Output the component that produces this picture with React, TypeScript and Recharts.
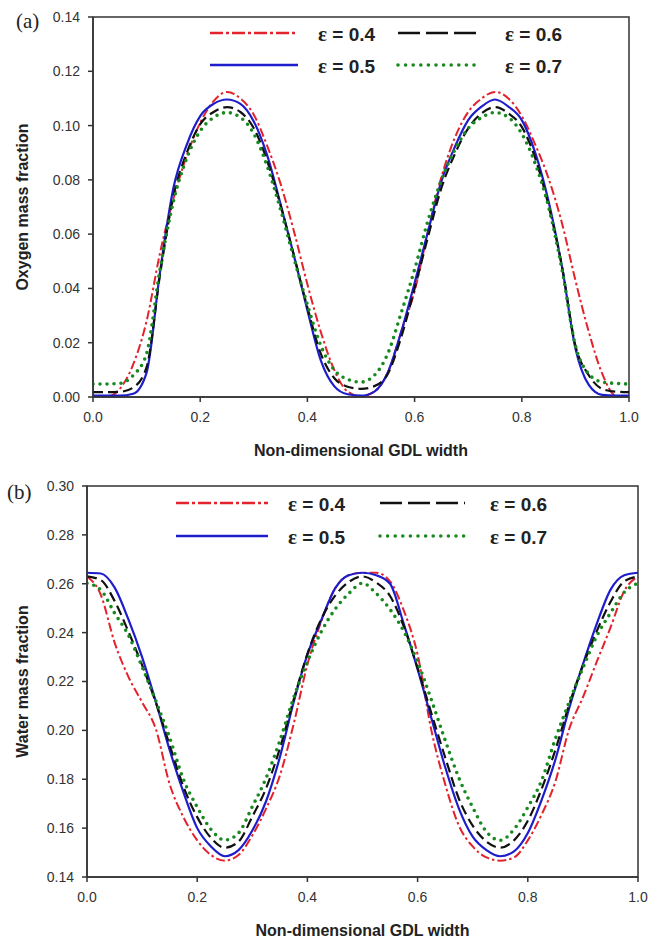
import React from "react";
import { LineChart, Line, XAxis, YAxis, ReferenceArea } from "recharts";

// shared x grid (non-dimensional GDL width)
const xs = [
  0, 0.025, 0.05, 0.075, 0.1, 0.125, 0.15, 0.175, 0.2, 0.225, 0.25, 0.275, 0.3, 0.325, 0.35, 0.375, 0.4, 0.425, 0.45,
  0.475, 0.5, 0.525, 0.55, 0.575, 0.6, 0.625, 0.65, 0.675, 0.7, 0.725, 0.75, 0.775, 0.8, 0.825, 0.85, 0.875, 0.9,
  0.925, 0.95, 0.975, 1.0,
];

const xTicks = [0, 0.2, 0.4, 0.6, 0.8, 1.0];
const oxyTicks = [0, 0.02, 0.04, 0.06, 0.08, 0.1, 0.12, 0.14];
const watTicks = [0.14, 0.16, 0.18, 0.2, 0.22, 0.24, 0.26, 0.28, 0.3];
const epsLabels = ["0.4", "0.5", "0.6", "0.7"];

// (a) oxygen mass fraction
const oxy04 = [
  0, 0, 0.003, 0.012, 0.028, 0.053, 0.073, 0.089, 0.101, 0.109, 0.1124, 0.11, 0.104, 0.0925, 0.0785, 0.061, 0.0415,
  0.024, 0.01, 0.002, 0.0002, 0.002, 0.009, 0.024, 0.039, 0.061, 0.081, 0.0955, 0.105, 0.11, 0.1124, 0.11, 0.1035,
  0.093, 0.0805, 0.064, 0.043, 0.024, 0.0086, 0.0005, 0,
];
const oxy05 = [
  0.0005, 0.0005, 0.0005, 0.0012, 0.009, 0.046, 0.077, 0.093, 0.1035, 0.108, 0.1096, 0.108, 0.1015, 0.089, 0.071,
  0.052, 0.032, 0.0135, 0.004, 0.001, 0.0005, 0.002, 0.009, 0.024, 0.042, 0.061, 0.0795, 0.0921, 0.102, 0.107, 0.1096,
  0.107, 0.102, 0.09, 0.072, 0.048, 0.018, 0.0045, 0.0008, 0.0005, 0.0005,
];
const oxy06 = [
  0.0018, 0.0018, 0.0019, 0.0035, 0.011, 0.045, 0.074, 0.09, 0.1005, 0.105, 0.1068, 0.105, 0.099, 0.087, 0.0705, 0.052,
  0.033, 0.016, 0.007, 0.0038, 0.003, 0.004, 0.0085, 0.022, 0.04, 0.059, 0.077, 0.0895, 0.099, 0.1045, 0.1068, 0.1045,
  0.0995, 0.088, 0.0705, 0.048, 0.019, 0.008, 0.003, 0.002, 0.0018,
];
const oxy07 = [
  0.0048, 0.0048, 0.005, 0.008, 0.016, 0.047, 0.072, 0.088, 0.098, 0.103, 0.1048, 0.103, 0.097, 0.085, 0.069, 0.051,
  0.034, 0.019, 0.01, 0.0065, 0.0055, 0.008, 0.016, 0.031, 0.047, 0.065, 0.08, 0.091, 0.099, 0.103, 0.1048, 0.103,
  0.097, 0.086, 0.07, 0.047, 0.019, 0.0085, 0.0055, 0.005, 0.0048,
];

// (b) water mass fraction
const wat04 = [
  0.263, 0.2555, 0.236, 0.222, 0.2115, 0.2005, 0.178, 0.1645, 0.155, 0.149, 0.1467, 0.149, 0.157, 0.168, 0.1815, 0.2025,
  0.227, 0.2445, 0.258, 0.2635, 0.2645, 0.2645, 0.261, 0.249, 0.231, 0.2, 0.178, 0.161, 0.1525, 0.148, 0.1467, 0.148,
  0.155, 0.1655, 0.179, 0.2005, 0.2135, 0.228, 0.242, 0.257, 0.263,
];
const wat05 = [
  0.2645, 0.2642, 0.2585, 0.2455, 0.23, 0.2117, 0.192, 0.1747, 0.16, 0.1525, 0.1485, 0.151, 0.159, 0.171, 0.189, 0.2115,
  0.231, 0.245, 0.258, 0.2635, 0.2645, 0.2635, 0.26, 0.2435, 0.225, 0.205, 0.185, 0.168, 0.1565, 0.151, 0.1485, 0.1505,
  0.158, 0.1715, 0.188, 0.209, 0.227, 0.2435, 0.2575, 0.2635, 0.2645,
];
const wat06 = [
  0.263, 0.2615, 0.253, 0.2405, 0.2267, 0.2113, 0.194, 0.177, 0.1645, 0.156, 0.152, 0.1545, 0.1647, 0.1763, 0.1926,
  0.2125, 0.2313, 0.2455, 0.255, 0.2607, 0.263, 0.2605, 0.255, 0.2425, 0.2255, 0.207, 0.189, 0.172, 0.161, 0.1545, 0.152,
  0.155, 0.163, 0.176, 0.192, 0.2105, 0.2265, 0.2405, 0.2525, 0.261, 0.263,
];
const wat07 = [
  0.2602, 0.2575, 0.248, 0.239, 0.226, 0.212, 0.197, 0.18, 0.1686, 0.1595, 0.1551, 0.158, 0.1688, 0.1805, 0.1958,
  0.2133, 0.228, 0.2403, 0.2495, 0.256, 0.2602, 0.256, 0.2495, 0.2405, 0.228, 0.2125, 0.196, 0.1805, 0.1685, 0.1585,
  0.155, 0.1595, 0.1685, 0.1795, 0.1965, 0.2115, 0.2255, 0.2385, 0.248, 0.2565, 0.2602,
];

const oxyRows = xs.map((x, i) => ({ x, e4: oxy04[i], e5: oxy05[i], e6: oxy06[i], e7: oxy07[i] }));
const watRows = xs.map((x, i) => ({ x, e4: wat04[i], e5: wat05[i], e6: wat06[i], e7: wat07[i] }));

const SERIES = [
  { key: "e4", label: epsLabels[0], color: "#e3222b", width: 2, dash: "9 3 2.5 3", legendDash: "13 3 3 3", cap: "butt" },
  { key: "e5", label: epsLabels[1], color: "#1d1dcc", width: 2.2, dash: undefined, legendDash: undefined, cap: "butt" },
  { key: "e6", label: epsLabels[2], color: "#111111", width: 2.2, dash: "10 5", legendDash: "22 6", cap: "butt" },
  { key: "e7", label: epsLabels[3], color: "#178a1f", width: 3.6, dash: "0 7", legendDash: "0 7.6", cap: "round" },
] as const;

const AXIS = "#333";
const TICK_FONT = { fontFamily: "'Liberation Sans', Arial, sans-serif", fontSize: 14, fill: "#333" };
const TITLE_STYLE = {
  fontFamily: "'Liberation Sans', Arial, sans-serif",
  fontSize: 16,
  fontWeight: "bold" as const,
  fill: "#222",
  textAnchor: "middle" as const,
};

function Panel(props: {
  rows: any[];
  height: number;
  margin: { top: number; right: number; bottom: number; left: number };
  yWidth: number;
  yDomain: [number, number];
  yTicks: number[];
  yTitle: string;
}) {
  const { rows, height, margin, yWidth, yDomain, yTicks, yTitle } = props;
  return (
    <LineChart width={659} height={height} data={rows} margin={margin}>
      <XAxis
        dataKey="x"
        type="number"
        domain={[0, 1]}
        ticks={xTicks}
        tickFormatter={(v: number) => v.toFixed(1)}
        stroke={AXIS}
        strokeWidth={1.5}
        tickSize={5}
        tickMargin={10}
        tick={TICK_FONT}
        height={60}
        allowDataOverflow
        label={{ value: "Non-dimensional GDL width", position: "insideBottom", offset: 1, style: TITLE_STYLE }}
      />
      <YAxis
        type="number"
        domain={yDomain}
        ticks={yTicks}
        tickFormatter={(v: number) => v.toFixed(2)}
        stroke={AXIS}
        strokeWidth={1.5}
        tickSize={5}
        tickMargin={8}
        tick={TICK_FONT}
        width={yWidth}
        allowDataOverflow
        label={{ value: yTitle, angle: -90, position: "insideLeft", offset: 22, style: TITLE_STYLE }}
      />
      <ReferenceArea
        x1={0}
        x2={1}
        y1={yDomain[0]}
        y2={yDomain[1]}
        fill="none"
        fillOpacity={0}
        stroke={AXIS}
        strokeWidth={1.5}
        ifOverflow="visible"
      />
      {SERIES.map((s) => (
        <Line
          key={s.key}
          type="monotone"
          dataKey={s.key}
          stroke={s.color}
          strokeWidth={s.width}
          strokeDasharray={s.dash}
          strokeLinecap={s.cap}
          dot={false}
          activeDot={false}
          isAnimationActive={false}
        />
      ))}
    </LineChart>
  );
}

function LegendBlock(props: { rows: [number, number]; sample: [number, number][]; textX: [number, number] }) {
  const { rows, sample, textX } = props;
  // column 1: e4, e5 ; column 2: e6, e7
  const layout = [
    { s: SERIES[0], col: 0, row: 0 },
    { s: SERIES[2], col: 1, row: 0 },
    { s: SERIES[1], col: 0, row: 1 },
    { s: SERIES[3], col: 1, row: 1 },
  ];
  return (
    <g>
      {layout.map(({ s, col, row }) => (
        <g key={s.key}>
          <line
            x1={sample[col][0]}
            x2={sample[col][1]}
            y1={rows[row]}
            y2={rows[row]}
            stroke={s.color}
            strokeWidth={s.key === "e7" ? 3.6 : s.width + 0.4}
            strokeDasharray={s.legendDash}
            strokeLinecap={s.cap}
          />
          <text
            x={textX[col]}
            y={rows[row] + 8}
            fontFamily="'Liberation Sans', Arial, sans-serif"
            fontSize={19}
            fontWeight="bold"
            fill="#222"
          >
            <tspan fontFamily="'Liberation Serif', 'Times New Roman', serif" fontSize={21}>
              ε
            </tspan>
            {" = " + s.label}
          </text>
        </g>
      ))}
    </g>
  );
}

export default function App() {
  return (
    <div style={{ position: "absolute", left: 0, top: 0, width: 659, height: 941, background: "#fff" }}>
      <div style={{ position: "absolute", left: 0, top: 0 }}>
        <Panel
          rows={oxyRows}
          height={470}
          margin={{ top: 17, right: 30, bottom: 13, left: 0 }}
          yWidth={93}
          yDomain={[0, 0.14]}
          yTicks={oxyTicks}
          yTitle="Oxygen mass fraction"
        />
      </div>
      <div style={{ position: "absolute", left: 0, top: 470 }}>
        <Panel
          rows={watRows}
          height={471}
          margin={{ top: 16, right: 21, bottom: 4, left: 0 }}
          yWidth={87}
          yDomain={[0.14, 0.3]}
          yTicks={watTicks}
          yTitle="Water mass fraction"
        />
      </div>
      <svg
        width={659}
        height={941}
        style={{ position: "absolute", left: 0, top: 0, pointerEvents: "none" }}
      >
        <text x={16} y={28} fontFamily="'Liberation Serif', 'Times New Roman', serif" fontSize={21} fill="#222">
          (a)
        </text>
        <text x={7} y={499} fontFamily="'Liberation Serif', 'Times New Roman', serif" fontSize={21} fill="#222">
          (b)
        </text>
        <LegendBlock rows={[33, 65]} sample={[[210, 298], [398, 481]]} textX={[318, 505]} />
        <LegendBlock rows={[503, 536]} sample={[[176, 268], [380, 465]]} textX={[288, 490]} />
      </svg>
    </div>
  );
}
